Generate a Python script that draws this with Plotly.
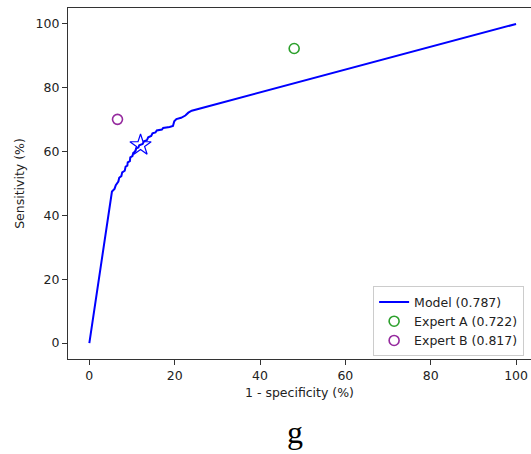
import plotly.graph_objects as go

# ROC curve of the model (false positive rate vs. true positive rate, in %)
model_fpr = [0, 5.3, 5.9, 6.2, 6.8, 7.0, 7.5, 7.7, 8.3, 8.5, 8.9, 9.0, 9.5, 9.6,
             10.1, 10.3, 10.8, 11.0, 11.5, 11.7, 12.5, 12.8, 13.5, 13.8, 14.5,
             14.8, 15.5, 15.8, 17.0, 17.3, 18.8, 19.6, 19.9, 20.4, 21.5, 22.5,
             23.2, 24.0, 100]
model_tpr = [0, 47.5, 48.3, 49.5, 50.6, 51.8, 52.3, 53.5, 54.0, 55.3, 55.6, 56.6,
             57.0, 58.2, 58.6, 59.6, 60.1, 61.0, 61.3, 62.0, 62.4, 63.2, 63.6,
             64.5, 64.9, 65.7, 66.0, 66.6, 66.9, 67.4, 67.7, 68.0, 69.5, 70.2,
             70.6, 71.3, 72.2, 72.8, 100]

# Operating point of the model
op_fpr = [12.0]
op_tpr = [62.0]

# Expert readers
expert_a_fpr = [48.0]
expert_a_tpr = [92.3]
expert_b_fpr = [6.6]
expert_b_tpr = [70.1]

model_name = "Model (0.787)"
expert_a_name = "Expert A (0.722)"
expert_b_name = "Expert B (0.817)"

tick_vals = [0, 20, 40, 60, 80, 100]

FONT = "DejaVu Sans"
TXT = "#222222"

fig = go.Figure()
fig.add_trace(go.Scatter(x=model_fpr, y=model_tpr, mode="lines", name=model_name,
                         line=dict(color="#0000ff", width=2)))
fig.add_trace(go.Scatter(x=op_fpr, y=op_tpr, mode="markers", showlegend=False,
                         marker=dict(symbol="star-open", size=16, color="#0000ff",
                                     line=dict(width=1.2, color="#0000ff"))))
fig.add_trace(go.Scatter(x=expert_a_fpr, y=expert_a_tpr, mode="markers", name=expert_a_name,
                         marker=dict(symbol="circle-open", size=10, color="#2ca02c",
                                     line=dict(width=1.6, color="#2ca02c"))))
fig.add_trace(go.Scatter(x=expert_b_fpr, y=expert_b_tpr, mode="markers", name=expert_b_name,
                         marker=dict(symbol="circle-open", size=10, color="#952a9e",
                                     line=dict(width=1.6, color="#952a9e"))))

axis_common = dict(
    showgrid=False, zeroline=False, showline=True, linecolor="#333333", linewidth=1.2,
    ticks="outside", ticklen=5, tickwidth=1, tickcolor="#333333",
    tickvals=tick_vals, tickfont=dict(family=FONT, size=12.5, color=TXT),
)

fig.update_layout(
    width=531, height=454,
    margin=dict(l=68, r=0, t=8, b=95),
    paper_bgcolor="white", plot_bgcolor="white",
    font=dict(family=FONT, size=12.5, color=TXT),
    xaxis=dict(axis_common, range=[-5, 103.5], mirror=True,
               title=dict(text="1 - specificity (%)", standoff=6,
                          font=dict(family=FONT, size=12.5, color=TXT))),
    yaxis=dict(axis_common, range=[-5, 105],
               title=dict(text="Sensitivity (%)", standoff=8,
                          font=dict(family=FONT, size=12.5, color=TXT))),
    legend=dict(x=0.659, y=0.207, xanchor="left", yanchor="top",
                bgcolor="white", bordercolor="#cccccc", borderwidth=1,
                font=dict(family=FONT, size=12.5, color=TXT),
                tracegroupgap=0, entrywidth=165),
    annotations=[dict(text="g", xref="paper", yref="paper", x=0.49, y=-0.208,
                      xanchor="center", yanchor="middle", showarrow=False,
                      font=dict(family="Liberation Serif", size=32, color="black"))],
)

fig.write_html("out.html")
